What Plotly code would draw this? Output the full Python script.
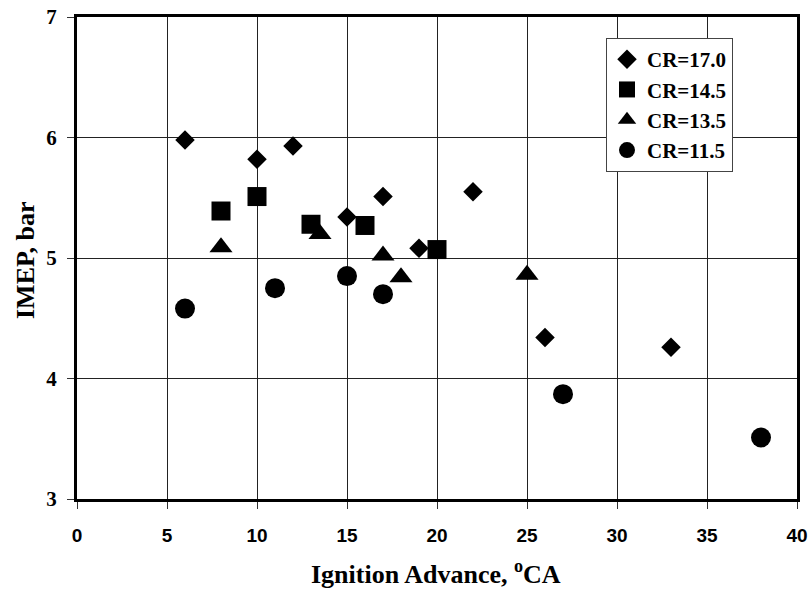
import plotly.graph_objects as go

# ---- data ----
cr170_x = [6, 10, 12, 15, 17, 19, 22, 26, 33]
cr170_y = [5.98, 5.82, 5.93, 5.34, 5.51, 5.08, 5.55, 4.34, 4.26]

cr145_x = [8, 10, 13, 16, 20]
cr145_y = [5.39, 5.51, 5.28, 5.27, 5.07]

cr135_x = [8, 13.5, 17, 18, 25]
cr135_y = [5.09, 5.20, 5.02, 4.84, 4.86]

cr115_x = [6, 11, 15, 17, 27, 38]
cr115_y = [4.58, 4.75, 4.85, 4.70, 3.87, 3.51]

series_names = ["CR=17.0", "CR=14.5", "CR=13.5", "CR=11.5"]
x_ticks = [0, 5, 10, 15, 20, 25, 30, 35, 40]
y_ticks = [3, 4, 5, 6, 7]

fig = go.Figure()
specs = [
    (cr170_x, cr170_y, "diamond", 15),
    (cr145_x, cr145_y, "square", 19),
    (cr135_x, cr135_y, "triangle-up", 20),
    (cr115_x, cr115_y, "circle", 20),
]
for (xs, ys, sym, sz), name in zip(specs, series_names):
    fig.add_trace(go.Scatter(
        x=xs, y=ys, mode="markers", name=name,
        marker=dict(symbol=sym, size=sz, color="black", line=dict(width=0)),
    ))

L, R, T, B = 77, 11, 17, 93
W, H = 808, 592
pw, ph = W - L - R, H - T - B

fig.update_layout(
    width=W, height=H,
    margin=dict(l=L, r=R, t=T, b=B, pad=0, autoexpand=False),
    paper_bgcolor="white", plot_bgcolor="white",
    showlegend=True,
    legend=dict(
        x=(733 - L) / pw, xanchor="right",
        y=(H - B - 38) / ph, yanchor="top",
        bgcolor="white", bordercolor="#444", borderwidth=1,
        font=dict(family="Liberation Serif", size=21, color="black", weight="bold"),
        itemwidth=30, tracegroupgap=0,
    ),
    xaxis=dict(
        range=[0, 40], tickvals=x_ticks, ticktext=[str(v) for v in x_ticks],
        showgrid=True, gridcolor="#222", gridwidth=1,
        showline=True, linecolor="black", linewidth=3, mirror=True,
        ticks="outside", ticklen=7, tickcolor="#333", tickwidth=1,
        tickfont=dict(family="Liberation Sans", size=19, color="black", weight="bold"),
        ticklabelstandoff=10, automargin=False,
        zeroline=False,
    ),
    yaxis=dict(
        range=[3, 7], tickvals=y_ticks, ticktext=[str(v) for v in y_ticks],
        showgrid=True, gridcolor="#222", gridwidth=1,
        showline=True, linecolor="black", linewidth=3, mirror=True,
        ticks="outside", ticklen=7, tickcolor="#333", tickwidth=1,
        tickfont=dict(family="Liberation Serif", size=21, color="black", weight="bold"),
        ticklabelstandoff=6, automargin=False,
        zeroline=False,
    ),
    annotations=[
        dict(text="<b>Ignition Advance, <sup>o</sup>CA</b>", xref="paper", yref="paper",
             x=(436 - L) / pw, y=(H - B - 572) / ph, xanchor="center", yanchor="middle",
             showarrow=False, font=dict(family="Liberation Serif", size=26, color="black")),
        dict(text="<b>IMEP, bar</b>", xref="paper", yref="paper", textangle=-90,
             x=(25 - L) / pw, y=(H - B - 260) / ph, xanchor="center", yanchor="middle",
             showarrow=False, font=dict(family="Liberation Serif", size=26, color="black")),
    ],
)

fig.write_html(
    "out.html",
    config={"displayModeBar": False},
    post_script="document.body.style.margin='0px';document.body.style.overflow='hidden';",
)
